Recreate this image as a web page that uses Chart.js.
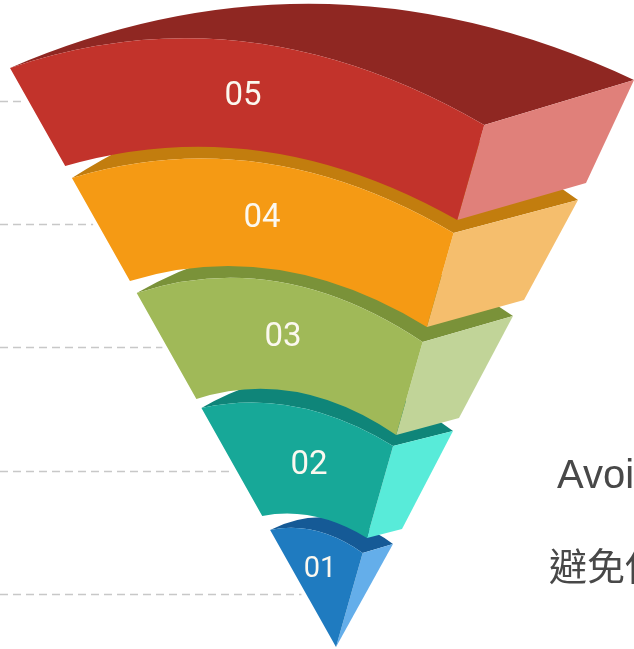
<!DOCTYPE html>
<html>
<head>
<meta charset="utf-8">
<style>html,body{margin:0;padding:0;background:#fff;overflow:hidden}canvas{display:block}</style>
<script src="https://cdn.jsdelivr.net/npm/chart.js@4/dist/chart.umd.min.js"></script>
</head>
<body>
<canvas id="c" width="634" height="649"></canvas>
<script>
const categories = ['01', '02', '03', '04', '05'];
// Heights above the funnel tip, one per band
const leftTop = [117, 239, 354, 469, 579];
const leftBottom = [0, 131, 248, 366, 481];
const frontTop = [94, 201, 305, 414, 522];
const frontBottom = [0, 109, 212, 320, 427];
const rightTop = [103, 216, 331, 447, 567];
const rightBottom = [0, 118, 229, 347, 464];
const frontCrown = [116, 240, 365, 484, 605];
const bottomCrown = [0, 130.5, 255, 377, 496];
const backCrown = [129, 270, 402, 545, 643];
// Horizontal offsets from the tip along the right-hand edge
const rightTopRun = [57, 117, 177, 242, 298];
const rightBottomRun = [0, 66, 123, 188, 250];
// Horizontal run per unit of height along the left and front edges
const leftEdge = -0.563;
const frontEdge = 0.284;
const guideHeights = [52.5, 175.5, 299.5, 422.5, 545.5];
const labelOffsets = [-16, -27, -53, -74, -93];
const labelHeights = [77, 181, 309, 428, 550];
const frontColors = ['#1f7bc0', '#17a898', '#a0b958', '#f59a14', '#c2332b'];
const topColors = ['#155a96', '#0f8579', '#7a9239', '#c27d0e', '#8f2722'];
const sideColors = ['#64aeea', '#58ebd9', '#c1d498', '#f5be6d', '#e0807a'];
const sideNotes = ['Avoi', '避免使'];

const mid = (a, b) => (a + b) / 2;
const bandPoints = categories.map((_, i) => {
  const lt = leftTop[i] * leftEdge, ft = frontTop[i] * frontEdge;
  const lb = leftBottom[i] * leftEdge, fb = frontBottom[i] * frontEdge;
  const rt = rightTopRun[i], rb = rightBottomRun[i];
  return [
    {x: lt, y: leftTop[i]},
    {x: mid(lt, ft), y: frontCrown[i]},
    {x: ft, y: frontTop[i]},
    {x: mid(lt, rt), y: backCrown[i]},
    {x: rt, y: rightTop[i]},
    {x: rb, y: rightBottom[i]},
    {x: fb, y: frontBottom[i]},
    {x: mid(lb, fb), y: bottomCrown[i]},
    {x: lb, y: leftBottom[i]}
  ];
});

const bandDatasets = bandPoints.map((pts, i) => ({
  label: categories[i], data: pts, showLine: false, pointRadius: 0, pointHoverRadius: 0
}));
const guideDatasets = guideHeights.map((h, i) => ({
  label: 'guide ' + categories[i],
  data: [{x: -336, y: h}, {x: h * leftEdge - 5, y: h}],
  showLine: true, pointRadius: 0, borderColor: '#c8c8c8', borderWidth: 1.5, borderDash: [8, 5], fill: false
}));

function curve(ctx, a, m, b) {
  ctx.quadraticCurveTo(2 * m.x - mid(a.x, b.x), 2 * m.y - mid(a.y, b.y), b.x, b.y);
}
const funnelPlugin = {
  id: 'funnel',
  afterDatasetsDraw(chart) {
    const ctx = chart.ctx, sx = chart.scales.x, sy = chart.scales.y;
    ctx.save();
    categories.forEach((name, i) => {
      const [L, FC, F, BC, R, RB, FB, BotC, LB] = chart.getDatasetMeta(i).data;
      // dark top face
      ctx.beginPath(); ctx.moveTo(L.x, L.y); curve(ctx, L, BC, R); ctx.lineTo(F.x, F.y); curve(ctx, F, FC, L);
      ctx.closePath(); ctx.fillStyle = topColors[i]; ctx.fill();
      // light side face
      ctx.beginPath(); ctx.moveTo(F.x, F.y); ctx.lineTo(R.x, R.y); ctx.lineTo(RB.x, RB.y); ctx.lineTo(FB.x, FB.y);
      ctx.closePath(); ctx.fillStyle = sideColors[i]; ctx.fill();
      // front face
      ctx.beginPath(); ctx.moveTo(L.x, L.y); curve(ctx, L, FC, F); ctx.lineTo(FB.x, FB.y); curve(ctx, FB, BotC, LB);
      ctx.closePath(); ctx.fillStyle = frontColors[i]; ctx.fill();
    });
    ctx.textAlign = 'center'; ctx.textBaseline = 'middle'; ctx.fillStyle = '#fbf8ef';
    categories.forEach((name, i) => {
      ctx.font = (i === 0 ? 29 : 33) + 'px Roboto';
      ctx.fillText(name, sx.getPixelForValue(labelOffsets[i]), sy.getPixelForValue(labelHeights[i]));
    });
    ctx.textAlign = 'left'; ctx.textBaseline = 'alphabetic'; ctx.fillStyle = '#484848';
    ctx.font = '40px "Liberation Sans"';
    ctx.fillText(sideNotes[0], 557, 488);
    ctx.font = '38px "Noto Sans CJK TC"';
    ctx.fillText(sideNotes[1], 549, 580);
    ctx.restore();
  }
};

new Chart(document.getElementById('c'), {
  type: 'scatter',
  data: {datasets: [...bandDatasets, ...guideDatasets]},
  plugins: [funnelPlugin],
  options: {
    responsive: false,
    animation: false,
    layout: {padding: 0},
    plugins: {legend: {display: false}, tooltip: {enabled: false}},
    scales: {
      x: {type: 'linear', min: -336, max: 298, display: false},
      y: {type: 'linear', min: -2, max: 647, display: false}
    }
  }
});
</script>
</body>
</html>
